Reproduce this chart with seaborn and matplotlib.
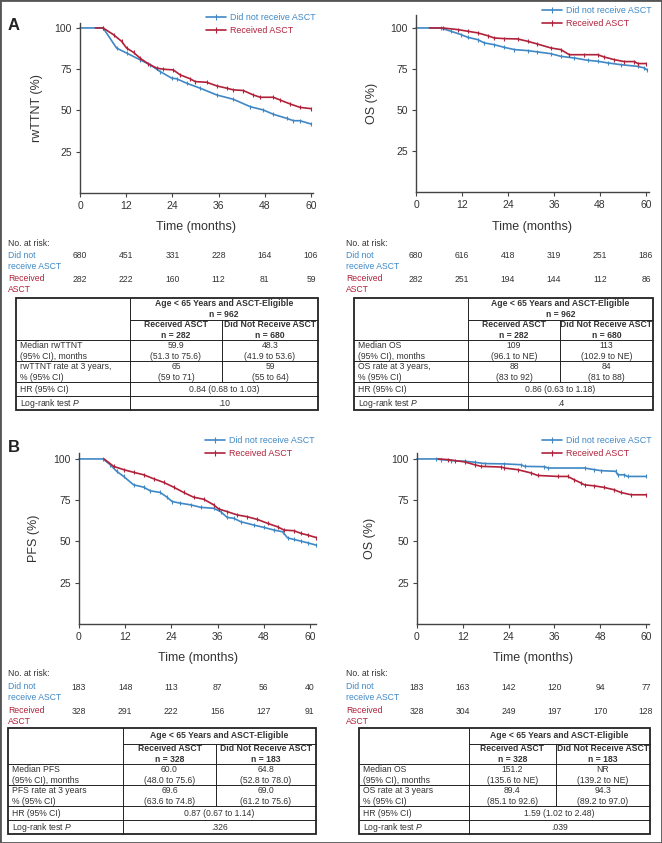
import numpy as np
import pandas as pd
import matplotlib
matplotlib.use("Agg")
import matplotlib.pyplot as plt
import seaborn as sns
from matplotlib.transforms import blended_transform_factory
from matplotlib.patches import Rectangle
from matplotlib.lines import Line2D

# ---------------- data ----------------
GROUPS = ["Did not receive ASCT", "Received ASCT"]
BLUE = "#3f88c5"
RED = "#b0213a"

# Panel A left: rwTTNT
a1_no_t = [0, 6, 9.5, 12.1, 15.6, 18.2, 20.8, 23.8, 25.1, 27.7, 31.2, 35.5, 39.8, 44.2, 47.6, 50.2, 53.7, 55.4, 57.1, 60]
a1_no_s = [100, 100, 87.8, 84.8, 80.7, 77.7, 73.6, 69.6, 69.2, 66.5, 63.5, 59.4, 56.8, 52.3, 50.3, 47.7, 45.2, 43.8, 43.8, 41.8]
a1_rec_t = [4, 6, 8.7, 10.8, 12.1, 13.9, 15.6, 17.7, 19.9, 21.6, 24.2, 26, 28.6, 29.9, 32.9, 35.5, 38.1, 39.8, 42.4, 45, 46.8, 50.2, 51.9, 54.5, 57.1, 60]
a1_rec_s = [100, 100, 95.9, 91.9, 87.8, 85.2, 81.7, 78.3, 75.7, 75, 74.6, 71.6, 69.2, 67.5, 67.1, 64.9, 63.5, 62.5, 62.1, 59.4, 58, 58, 56.4, 54, 51.9, 51.1]

# Panel A right: OS
a2_no_t = [0, 6.5, 9.1, 11.7, 13.5, 16.1, 17.8, 20.4, 23, 25.7, 29.1, 31.7, 35.2, 37.8, 41.3, 44.8, 47.4, 50, 53.5, 57.8, 59.6, 60.3]
a2_no_s = [100, 100, 98, 96, 94.3, 92.9, 90.9, 89.8, 88.2, 86.8, 86.2, 85.4, 84.3, 82.7, 81.7, 80.3, 79.7, 78.7, 77.6, 76.6, 75.6, 74.4]
a2_rec_t = [3.5, 7, 10.9, 13.5, 16.1, 18.7, 20.4, 23, 26.5, 29.1, 31.7, 35.2, 37.8, 40, 43.9, 47.4, 49.1, 51.7, 54.3, 57, 57.9, 60]
a2_rec_s = [100, 100, 99, 98, 97, 95.3, 93.9, 93.5, 93.3, 91.9, 90.2, 87.8, 86.8, 83.7, 83.7, 83.7, 82.3, 80.7, 79.5, 79.5, 78.3, 78.3]

# Panel B left: PFS
b1_no_t = [0, 6.3, 8.1, 9.8, 11.6, 14.2, 16.8, 18.5, 21.1, 22.9, 24.2, 26.3, 29, 31.6, 35, 36.8, 38.5, 40.3, 42, 45.5, 48.1, 50.7, 52.9, 54.2, 55.9, 57.7, 59.4, 61.6]
b1_no_s = [100, 100, 96.5, 92.5, 89.4, 84.3, 82.9, 80.7, 79.7, 76.8, 74.2, 73.2, 72.2, 70.7, 70.1, 68.1, 64.6, 64, 62, 59.9, 58.5, 56.9, 55.9, 52.2, 51.2, 50.2, 49.2, 47.8]
b1_rec_t = [6.5, 9, 11.6, 14.2, 16.8, 19.4, 22, 24.6, 27.2, 29.8, 32.4, 35, 36.3, 38.5, 41.1, 43.7, 46.3, 49, 51.6, 53.3, 55.9, 57.7, 59.4, 61.6]
b1_rec_s = [100, 95.5, 93.5, 91.9, 90.4, 88, 85.8, 82.9, 79.7, 76.8, 75.6, 72.2, 69.7, 68.1, 66.1, 65, 63.4, 61, 58.9, 56.9, 56.5, 54.9, 53.9, 52.4]

# Panel B right: OS
b2_no_t = [0, 5, 6.4, 9, 12.5, 15.1, 17.7, 22.9, 27.3, 28.2, 33.4, 34.3, 43.9, 46.5, 48.2, 52.1, 52.6, 54.3, 55.2, 60]
b2_no_s = [100, 100, 99.6, 99, 98.6, 98, 97.2, 97, 96.5, 95.5, 95.3, 94.5, 94.5, 93.5, 92.9, 92.5, 90.4, 90.4, 89.4, 89.4]
b2_rec_t = [5.5, 8.1, 9.9, 12.5, 15.1, 16.8, 22.1, 22.9, 26.4, 29.9, 31.6, 36.9, 39.5, 41.2, 43, 43.9, 46.5, 49.1, 51.7, 53.4, 56.1, 60]
b2_rec_s = [100, 99.6, 99, 98.2, 96.5, 95.5, 95.1, 94.5, 93.5, 91.5, 90, 89.4, 89.4, 87.4, 85.4, 84.3, 83.7, 82.7, 81.3, 79.7, 78.3, 78.3]

x_ticks = [0, 12, 24, 36, 48, 60]
y_ticks = [25, 50, 75, 100]

# Numbers at risk
a1_risk_no = [680, 451, 331, 228, 164, 106]
a1_risk_rec = [282, 222, 160, 112, 81, 59]
a2_risk_no = [680, 616, 418, 319, 251, 186]
a2_risk_rec = [282, 251, 194, 144, 112, 86]
b1_risk_no = [183, 148, 113, 87, 56, 40]
b1_risk_rec = [328, 291, 222, 156, 127, 91]
b2_risk_no = [183, 163, 142, 120, 94, 77]
b2_risk_rec = [328, 304, 249, 197, 170, 128]

# Summary tables
a1_tab_labels = ["Median rwTTNT\n(95% CI), months", "rwTTNT rate at 3 years,\n% (95% CI)"]
a1_tab_rec = ["59.9\n(51.3 to 75.6)", "65\n(59 to 71)"]
a1_tab_no = ["48.3\n(41.9 to 53.6)", "59\n(55 to 64)"]
a1_hr, a1_p = "0.84 (0.68 to 1.03)", ".10"

a2_tab_labels = ["Median OS\n(95% CI), months", "OS rate at 3 years,\n% (95% CI)"]
a2_tab_rec = ["109\n(96.1 to NE)", "88\n(83 to 92)"]
a2_tab_no = ["113\n(102.9 to NE)", "84\n(81 to 88)"]
a2_hr, a2_p = "0.86 (0.63 to 1.18)", ".4"

b1_tab_labels = ["Median PFS\n(95% CI), months", "PFS rate at 3 years\n% (95% CI)"]
b1_tab_rec = ["60.0\n(48.0 to 75.6)", "69.6\n(63.6 to 74.8)"]
b1_tab_no = ["64.8\n(52.8 to 78.0)", "69.0\n(61.2 to 75.6)"]
b1_hr, b1_p = "0.87 (0.67 to 1.14)", ".326"

b2_tab_labels = ["Median OS\n(95% CI), months", "OS rate at 3 years\n% (95% CI)"]
b2_tab_rec = ["151.2\n(135.6 to NE)", "89.4\n(85.1 to 92.6)"]
b2_tab_no = ["NR\n(139.2 to NE)", "94.3\n(89.2 to 97.0)"]
b2_hr, b2_p = "1.59 (1.02 to 2.48)", ".039"

# ---------------- style ----------------
sns.set_theme(style="white")
plt.rcParams["font.family"] = ["Liberation Sans", "DejaVu Sans"]
plt.rcParams["mathtext.fontset"] = "custom"
plt.rcParams["mathtext.it"] = "Liberation Sans:italic"
plt.rcParams["mathtext.rm"] = "Liberation Sans"

W, H = 662, 843
fig = plt.figure(figsize=(W / 100, H / 100), dpi=100)
fig.patch.set_facecolor("white")

ov = fig.add_axes([0, 0, 1, 1], zorder=0)
ov.set_xlim(0, W)
ov.set_ylim(H, 0)
ov.axis("off")
ov.patch.set_alpha(0)

TXT = "#333333"
AX = "#444444"


def make_ax(l, r, t, b):
    return fig.add_axes([l / W, 1 - b / H, (r - l) / W, (b - t) / H], zorder=1)


def km_panel(ax, no_t, no_s, rec_t, rec_s, xlim, ylim, ylabel, ylab_x):
    for t, s, c in ((no_t, no_s, BLUE), (rec_t, rec_s, RED)):
        df = pd.DataFrame({"time": t, "surv": s})
        sns.lineplot(data=df, x="time", y="surv", color=c, estimator=None, sort=False,
                     ax=ax, legend=False, lw=1.2, marker="|", markersize=3.5,
                     mew=0.8, mec=c, markevery=slice(1, None), clip_on=False)
    ax.set_xlim(*xlim)
    ax.set_ylim(*ylim)
    ax.set_xticks(x_ticks)
    ax.set_yticks(y_ticks)
    ax.set_facecolor("none")
    for s in ["top", "right"]:
        ax.spines[s].set_visible(False)
    for s in ["left", "bottom"]:
        ax.spines[s].set_color(AX)
        ax.spines[s].set_linewidth(1.0)
    ax.tick_params(direction="out", length=3, width=0.8, color=AX,
                   labelsize=7.5, labelcolor=TXT, pad=3, left=True, bottom=True)
    ax.set_ylabel(ylabel, fontsize=9, color=TXT)
    ax.yaxis.set_label_coords(ylab_x, 0.5)
    ax.set_xlabel("Time (months)", fontsize=9, color=TXT)


def legend(ax, x_px, y_px):
    handles = [Line2D([0], [0], color=c, lw=1.2, marker="|", markersize=4, mew=0.8)
               for c in (BLUE, RED)]
    ax.legend(handles, GROUPS, loc="upper left",
              bbox_to_anchor=(x_px / W, 1 - y_px / H), bbox_transform=fig.transFigure,
              frameon=False, fontsize=6.4, labelcolor="linecolor", handlelength=2.3,
              handletextpad=0.4, labelspacing=0.45, borderpad=0, borderaxespad=0,
              numpoints=1)


def risk_rows(ax, lab_x, y_no, y_rec, no_vals, rec_vals):
    tr = blended_transform_factory(ax.transData, ov.transData)
    ov.text(lab_x, y_no - 13, "No. at risk:", fontsize=6.2, color=TXT, va="center", ha="left")
    ov.text(lab_x, y_no + 5, "Did not\nreceive ASCT", fontsize=6.2, color=BLUE,
            va="center", ha="left", linespacing=1.25)
    ov.text(lab_x, y_rec + 5, "Received\nASCT", fontsize=6.2, color=RED,
            va="center", ha="left", linespacing=1.25)
    for xt, v in zip(x_ticks, no_vals):
        ax.text(xt, y_no, str(v), transform=tr, fontsize=6.2, color=TXT, ha="center", va="center")
    for xt, v in zip(x_ticks, rec_vals):
        ax.text(xt, y_rec, str(v), transform=tr, fontsize=6.2, color=TXT, ha="center", va="center")


def table(xs, ys, header1, n_rec, n_no, labels, rec_vals, no_vals, hr, p):
    x0, x1, x2, x3 = xs
    y0, y1, y2, y3, y4, y5, y6 = ys
    lc = "#222222"
    thick, thin = 1.3, 0.7
    ov.add_patch(Rectangle((x0, y0), x3 - x0, y6 - y0, fill=False, ec=lc, lw=thick))
    ov.plot([x1, x3], [y1, y1], color=lc, lw=thin)
    for y in (y2, y3, y4, y5):
        ov.plot([x0, x3], [y, y], color=lc, lw=thin)
    ov.plot([x1, x1], [y0, y6], color=lc, lw=thin)
    ov.plot([x2, x2], [y1, y4], color=lc, lw=thin)
    fs = 6.2
    kw = dict(fontsize=fs, color=TXT, linespacing=1.2)
    ov.text((x1 + x3) / 2, (y0 + y1) / 2, header1, ha="center", va="center",
            fontweight="bold", **kw)
    ov.text((x1 + x2) / 2, (y1 + y2) / 2, "Received ASCT\nn = %d" % n_rec, ha="center",
            va="center", fontweight="bold", **kw)
    ov.text((x2 + x3) / 2, (y1 + y2) / 2, "Did Not Receive ASCT\nn = %d" % n_no, ha="center",
            va="center", fontweight="bold", **kw)
    for (ya, yb), lab, rv, nv in zip([(y2, y3), (y3, y4)], labels, rec_vals, no_vals):
        yc = (ya + yb) / 2 + 0.5
        ov.text(x0 + 4, yc, lab, ha="left", va="center", **kw)
        ov.text((x1 + x2) / 2, yc, rv, ha="center", va="center", **kw)
        ov.text((x2 + x3) / 2, yc, nv, ha="center", va="center", **kw)
    ov.text(x0 + 4, (y4 + y5) / 2, "HR (95% CI)", ha="left", va="center", **kw)
    ov.text((x1 + x3) / 2, (y4 + y5) / 2, hr, ha="center", va="center", **kw)
    ov.text(x0 + 4, (y5 + y6) / 2, r"Log-rank test $\mathit{P}$", ha="left", va="center", **kw)
    ov.text((x1 + x3) / 2, (y5 + y6) / 2, p, ha="center", va="center", **kw)


def set_xlabel_pos(ax, top_px, bot_px, y_px):
    ax.xaxis.label.set_va("center")
    ax.xaxis.set_label_coords(0.5, (bot_px - y_px) / (bot_px - top_px))


# ---------------- Panel A ----------------
axA1 = make_ax(80, 313, 23, 193)
km_panel(axA1, a1_no_t, a1_no_s, a1_rec_t, a1_rec_s, (0, 60.5), (0, 103), "rwTTNT (%)", -0.16)
set_xlabel_pos(axA1, 23, 193, 227)
legend(axA1, 206, 13)

axA2 = make_ax(416, 649, 15, 192)
km_panel(axA2, a2_no_t, a2_no_s, a2_rec_t, a2_rec_s, (0, 60.8), (0, 107.9), "OS (%)", -0.165)
set_xlabel_pos(axA2, 15, 192, 227)
legend(axA2, 542, 6)

risk_rows(axA1, 8, 256, 279, a1_risk_no, a1_risk_rec)
risk_rows(axA2, 346, 256, 279, a2_risk_no, a2_risk_rec)

ysA = [298, 320, 340, 361, 382, 396, 410]
table([16, 130, 222, 318], ysA, "Age < 65 Years and ASCT-Eligible\nn = 962", 282, 680,
      a1_tab_labels, a1_tab_rec, a1_tab_no, a1_hr, a1_p)
table([354, 468, 560, 653], ysA, "Age < 65 Years and ASCT-Eligible\nn = 962", 282, 680,
      a2_tab_labels, a2_tab_rec, a2_tab_no, a2_hr, a2_p)

# ---------------- Panel B ----------------
axB1 = make_ax(79, 316, 453, 624)
km_panel(axB1, b1_no_t, b1_no_s, b1_rec_t, b1_rec_s, (0, 61.6), (0, 103.6), "PFS (%)", -0.165)
set_xlabel_pos(axB1, 453, 624, 658)
legend(axB1, 205, 436)

axB2 = make_ax(417, 649, 453, 624)
km_panel(axB2, b2_no_t, b2_no_s, b2_rec_t, b2_rec_s, (0, 60.8), (0, 103.6), "OS (%)", -0.177)
set_xlabel_pos(axB2, 453, 624, 658)
legend(axB2, 542, 436)

risk_rows(axB1, 8, 687, 711, b1_risk_no, b1_risk_rec)
risk_rows(axB2, 346, 687, 711, b2_risk_no, b2_risk_rec)

ysB = [728, 744, 764, 785, 806, 820, 834]
table([8, 123, 216, 316], ysB, "Age < 65 Years and ASCT-Eligible", 328, 183,
      b1_tab_labels, b1_tab_rec, b1_tab_no, b1_hr, b1_p)
table([359, 469, 556, 650], ysB, "Age < 65 Years and ASCT-Eligible", 328, 183,
      b2_tab_labels, b2_tab_rec, b2_tab_no, b2_hr, b2_p)

# panel letters
ov.text(14, 25, "A", fontsize=12, fontweight="bold", color="#222222", ha="center", va="center")
ov.text(14, 447, "B", fontsize=12, fontweight="bold", color="#222222", ha="center", va="center")

# outer frame
fig.add_artist(Rectangle((0, 0), 1, 1, transform=fig.transFigure, fill=False,
                         ec="#555555", lw=2.0))

fig.savefig("out.png", dpi=100)
